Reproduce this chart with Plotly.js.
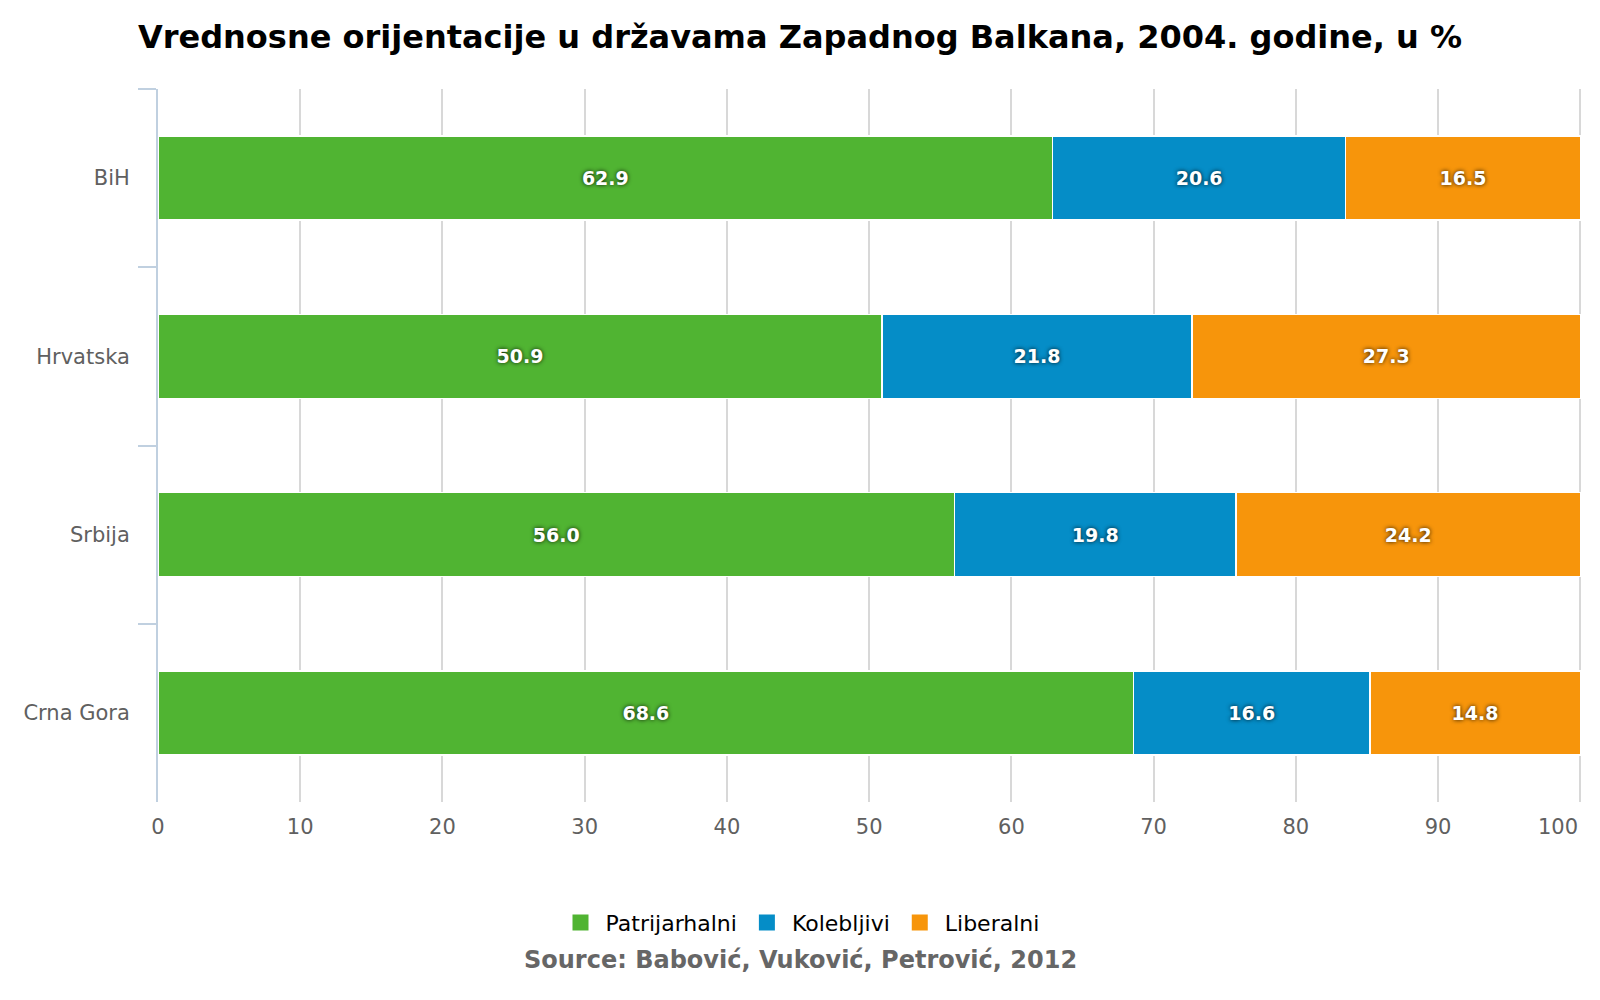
<!DOCTYPE html>
<html>
<head>
<meta charset="utf-8">
<script src="https://cdn.plot.ly/plotly-3.0.1.min.js"></script>
<style>
  html, body { margin: 0; padding: 0; background: #fff; }
  #chart { width: 1600px; height: 1000px; }
</style>
</head>
<body>
<div id="chart"></div>
<script>
// countries, top to bottom
var countries = ['BiH', 'Hrvatska', 'Srbija', 'Crna Gora'];

// shares in %
var patrijarhalni = [62.9, 50.9, 56.0, 68.6];
var kolebljivi = [20.6, 21.8, 19.8, 16.6];
var liberalni = [16.5, 27.3, 24.2, 14.8];

var seriesNames = ['Patrijarhalni', 'Kolebljivi', 'Liberalni'];
var seriesColors = ['#50b432', '#058dc7', '#f7950b'];
var xTicks = [0, 10, 20, 30, 40, 50, 60, 70, 80, 90, 100];

function makeTrace(vals, i) {
  return {
    type: 'bar',
    orientation: 'h',
    name: seriesNames[i],
    showlegend: false,
    y: countries,
    x: vals,
    text: vals.map(function(v) { return v.toFixed(1); }),
    texttemplate: '%{text}',
    textposition: 'inside',
    insidetextanchor: 'middle',
    textangle: 0,
    constraintext: 'none',
    textfont: { family: 'DejaVu Sans, sans-serif', size: 19, color: '#fff', weight: 'bold',
                shadow: '0px 0px 4px rgba(0,0,0,0.85)' },
    marker: { color: seriesColors[i], line: { color: '#fff', width: 1.5 } },
    hoverinfo: 'x+y+name'
  };
}

// legend-only entries with bigger square swatches
function legendTrace(i) {
  return {
    type: 'scatter',
    mode: 'markers',
    name: seriesNames[i],
    x: [null], y: [null],
    marker: { symbol: 'square', size: 18, color: seriesColors[i] },
    hoverinfo: 'skip'
  };
}

var data = [makeTrace(patrijarhalni, 0), makeTrace(kolebljivi, 1), makeTrace(liberalni, 2),
            legendTrace(0), legendTrace(1), legendTrace(2)];

// the last label is right-aligned to its gridline (separate annotation) so it stays on the page
var lastTick = xTicks[xTicks.length - 1];
var xTickText = xTicks.map(function(v, k) {
  return k === xTicks.length - 1 ? '' : String(v);
});

var tickFont = { family: 'DejaVu Sans, sans-serif', size: 21, color: '#606060' };

// page centre expressed in plot (paper) coordinates
var ml = 158, mr = 14;
var pageCenter = (800 - ml) / (1600 - ml - mr);

var layout = {
  width: 1600,
  height: 1000,
  barmode: 'stack',
  bargap: 0.53,
  paper_bgcolor: '#fff',
  plot_bgcolor: '#fff',
  margin: { l: ml, r: mr, t: 89, b: 198 },
  title: {
    text: 'Vrednosne orijentacije u državama Zapadnog Balkana, 2004. godine, u %',
    font: { family: 'DejaVu Sans, sans-serif', size: 32, color: '#000', weight: 'bold' },
    x: 0.5, xanchor: 'center', y: 0.963, yanchor: 'middle'
  },
  xaxis: {
    range: [0, 100.4],
    tickvals: xTicks,
    ticktext: xTickText,
    showgrid: true,
    gridcolor: '#d8d8d8',
    gridwidth: 2,
    zeroline: false,
    showline: false,
    ticks: '',
    tickfont: tickFont,
    ticklabelstandoff: 10,
    fixedrange: true
  },
  yaxis: {
    categoryorder: 'array',
    categoryarray: countries,
    autorange: 'reversed',
    showline: true,
    linecolor: '#c0d0e0',
    linewidth: 2,
    ticks: 'outside',
    ticklen: 18,
    tickwidth: 2,
    tickcolor: '#c0d0e0',
    tickson: 'boundaries',
    showgrid: false,
    tickfont: tickFont,
    ticklabelstandoff: 22,
    fixedrange: true
  },
  legend: {
    orientation: 'h',
    x: pageCenter, xanchor: 'center',
    y: -0.14, yanchor: 'top',
    font: { family: 'DejaVu Sans, sans-serif', size: 22, color: '#000' },
    traceorder: 'normal',
    itemwidth: 40
  },
  annotations: [{
    text: String(lastTick),
    xref: 'x', yref: 'paper',
    x: lastTick, xanchor: 'right',
    y: 0, yanchor: 'top', yshift: -11,
    showarrow: false,
    font: tickFont
  }, {
    text: 'Source: Babović, Vuković, Petrović, 2012',
    xref: 'paper', yref: 'paper',
    x: pageCenter, xanchor: 'center',
    y: -0.222, yanchor: 'middle',
    showarrow: false,
    font: { family: 'DejaVu Sans, sans-serif', size: 24, color: '#666666', weight: 'bold' }
  }]
};

Plotly.newPlot('chart', data, layout, { displayModeBar: false, staticPlot: true });
</script>
</body>
</html>
